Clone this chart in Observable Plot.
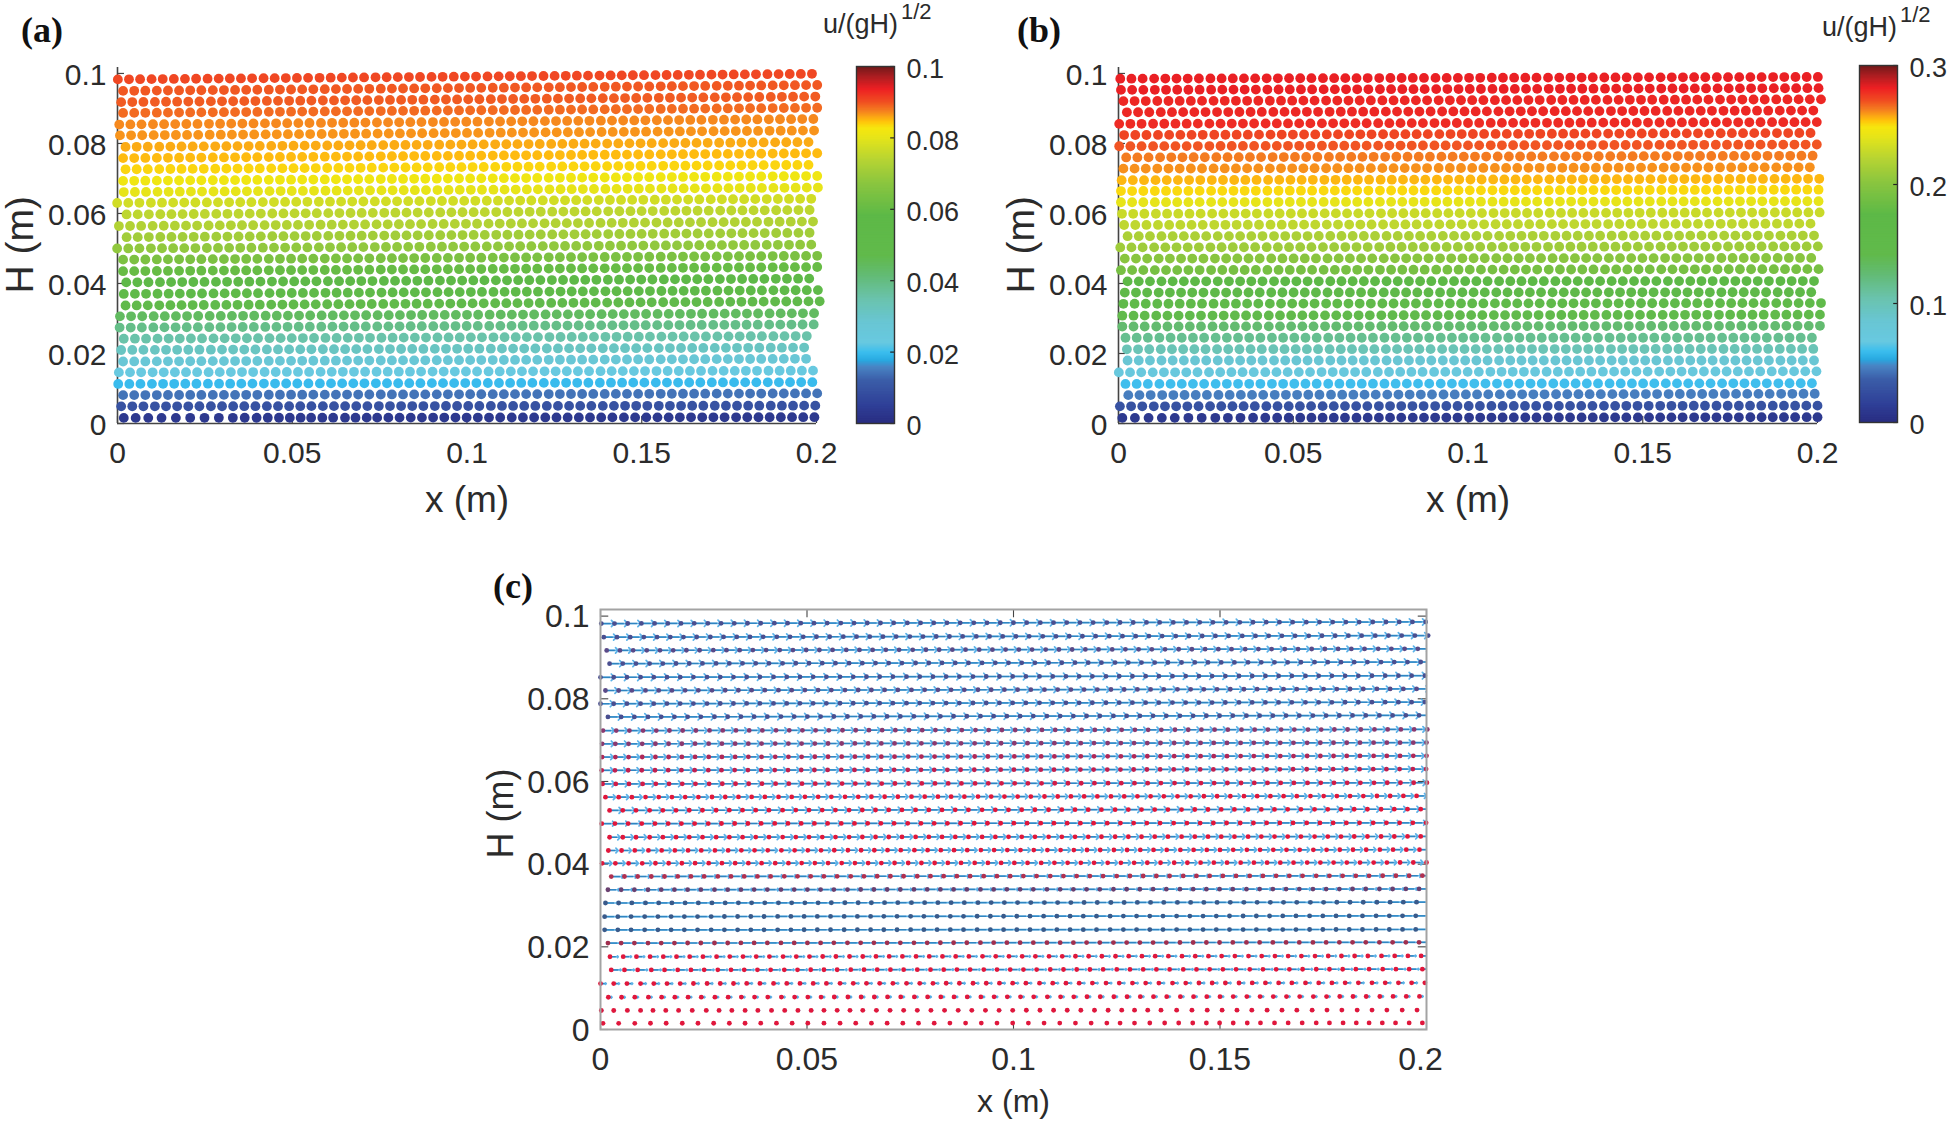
<!DOCTYPE html>
<html><head><meta charset="utf-8">
<style>
html,body{margin:0;padding:0;background:#fff;width:1950px;height:1126px;overflow:hidden}
#page{position:relative;width:1950px;height:1126px}
#page>svg{position:absolute}
.tag{position:absolute;font:bold 36px "Liberation Serif",serif;line-height:1;color:#111}
.unit{position:absolute;font:27px "Liberation Sans",Arial,sans-serif;line-height:1;color:#2b2b2b;white-space:nowrap}
.unit sup{position:absolute;font-size:22px;line-height:1;top:-10px;left:78px}
</style>
<script src="https://cdn.jsdelivr.net/npm/d3@7"></script>
<script src="https://cdn.jsdelivr.net/npm/@observablehq/plot@0.6"></script>
</head><body><div id="page"></div>
<script>
// Tick labels
const xTicks = [0, 0.05, 0.1, 0.15, 0.2];
const yTicks = [0, 0.02, 0.04, 0.06, 0.08, 0.1];
const barTicksA = [0, 0.02, 0.04, 0.06, 0.08, 0.1];
const barTicksB = [0, 0.1, 0.2, 0.3];

// Colormap (fraction of full scale -> colour)
const mapStops = [0,.047,.12,.158,.175,.197,.225,.28,.346,.412,.468,.58,.672,.737,.795,.826,.845,.873,.9,.935,.972,1];
const mapColors = ["#2a2e82","#2f3f97","#3c5fa9","#4a86c5","#2aa9e0","#3bbdee","#68c9e0","#69c6d4","#6ac3ad","#63bb75","#61ba4b","#5db947","#8cc63f","#b7d433","#e4e41b","#f7e70f","#ffc20e","#f58220","#f04e23","#ed2024","#a81e22","#6e1a1a"];

// Particle columns along a row (m)
const columnX = [0,.0032,.0064,.0097,.0129,.0161,.0193,.0225,.0258,.029,.0322,.0354,.0386,.0419,.0451,.0483,.0515,.0547,.058,.0612,.0644,.0676,.0708,.0741,.0773,.0805,.0837,.0869,.0902,.0934,.0966,.0998,.103,.1063,.1095,.1127,.1159,.1191,.1224,.1256,.1288,.132,.1352,.1385,.1417,.1449,.1481,.1513,.1546,.1578,.161,.1642,.1674,.1707,.1739,.1771,.1803,.1835,.1868,.19,.1932,.1964,.1996];

// Panel (a): one entry per particle row, top to bottom
const heightsA = [.0983,.095,.0918,.0887,.0854,.0823,.079,.0758,.0726,.0693,.0661,.063,.0597,.0564,.0532,.05,.0468,.0435,.0403,.037,.0337,.0306,.0274,.0242,.021,.0177,.0146,.0113,.0081,.0049,.0016];
const tiltsA = [.0016,.0017,.0016,.0015,.0016,.0014,.0014,.0014,.0013,.0014,.0013,.0012,.0013,.0013,.0013,.0011,.0011,.0012,.0011,.0011,.0012,.0009,.0009,.0008,.0007,.0008,.0005,.0005,.0005,.0002,.0002];
const shiftsA = [.0001,.0016,.00105,.0016,.0005,.0007,.0023,.0016,.0023,.0016,.0018,-.0001,.0026,.0004,.0026,-.0001,.0016,.0016,.0025,.0018,.0023,.0007,.0006,.0018,.00105,.0016,.0004,.0002,.0016,.00105,.0018];
const countsA = [63,63,63,63,63,63,62,63,62,63,63,63,62,63,62,63,63,63,62,63,63,63,63,62,62,62,63,63,63,63,63];
const speedsA = [.0905,.0895,.0893,.0885,.087,.0865,.0855,.0848,.0835,.0815,.08,.077,.0745,.073,.0705,.068,.064,.06,.056,.052,.047,.044,.039,.035,.031,.027,.0225,.0195,.014,.009,.003];
const bottomRowA = [.0018,.0052,.0088,.0126,.0167,.0208,.0249,.029,.033,.0364,.0398,.043,.0462,.0493,.0524,.0554,.0586,.0617,.0651,.0681,.0713,.0743,.0775,.0807,.0839,.0871,.0903,.0935,.0967,.0999,.1031,.1063,.1095,.1128,.116,.1192,.1224,.1256,.1288,.132,.1352,.1384,.1416,.1449,.1481,.1513,.1545,.1577,.1609,.1641,.1673,.1705,.1737,.177,.1802,.1834,.1866,.1898,.193,.1962,.1994];
const pitchRatioA = 0.995;

// Panel (b)
const heightsB = [.0985,.0953,.0921,.0889,.0856,.0824,.0792,.076,.0728,.0695,.0664,.0632,.0599,.0567,.0535,.0503,.0471,.0438,.0406,.0374,.0342,.0308,.0277,.0245,.0212,.018,.0146,.0113,.0081,.0049,.0016];
const tiltsB = [.0005,.0005,.0005,.0005,.0005,.0006,.0005,.0005,.0004,.0004,.0004,.0003,.0004,.0004,.0002,.0003,.0002,.0003,.0001,.0001,.0002,.0003,.0002,0,.0001,0,.0003,.0002,.0004,.0002,.0002];
const shiftsB = [.0005,.0007,.0014,.0024,.0002,.0016,.0002,.0022,.0014,.0009,.0007,.0007,.001,.0016,.0026,.0005,.0018,.0007,.0026,.0018,.0014,.0011,.0011,.002,.0024,.0026,.0001,.002,.0028,.0004,.0011];
const countsB = [63,63,63,62,63,62,63,62,62,63,63,63,63,62,62,63,62,63,62,62,63,63,63,62,62,62,63,62,62,63,63];
const speedsB = [.281,.281,.279,.279,.278,.272,.269,.263,.26,.255,.25,.24,.228,.224,.216,.21,.2,.189,.174,.159,.15,.141,.126,.114,.099,.084,.072,.06,.045,.027,.009];
const bottomRowB = [.0011,.0047,.0086,.0124,.0161,.02,.0238,.0277,.0313,.0349,.0385,.042,.0454,.0487,.052,.0552,.0584,.0616,.0648,.0681,.0713,.0745,.0777,.0809,.0842,.0874,.0906,.0938,.097,.1003,.1035,.1067,.1099,.1131,.1164,.1196,.1228,.126,.1292,.1325,.1357,.1389,.1421,.1453,.1486,.1518,.155,.1582,.1614,.1647,.1679,.1711,.1743,.1775,.1808,.184,.1872,.1904,.1936,.1969,.2];

// Panel (c): particles and velocity arrows
const heightsC = [.0982,.0949,.0917,.0885,.0852,.082,.0788,.0756,.0723,.0691,.0659,.0627,.0594,.0562,.053,.0498,.0465,.0433,.0402,.037,.0338,.0306,.0273,.0241,.0209,.0176,.0144,.0111,.0078,.0046,.0015];
const tiltsC = [.0004,.0004,.0004,.0004,.0004,.0004,.0004,.0004,.0003,.0003,.0003,.0003,.0003,.0003,.0003,.0002,.0002,.0002,.0002,.0002,.0002,.0002,.0002,.0001,.0002,.0002,.0002,.0002,.0002,.0001,.0001];
const shiftsC = [.0002,.0008,.0015,.0022,0,.0012,0,.0018,.0006,.0004,.0004,.0003,.0005,.0012,.0022,.0003,.0022,.0019,.0004,.0026,.0018,.0012,.001,.001,.0018,.0023,.0026,0,.0019,0,0];
const countsC = [63,63,62,62,63,62,63,62,63,63,63,63,63,62,62,63,62,62,63,62,62,62,62,62,62,62,62,63,62,63,63];
const arrowLengthsC = [.0032,.0031,.0028,.0032,.0034,.003,.0031,.0033,.0028,.0029,.0027,.0028,.003,.0025,.003,.0032,.0026,.0024,.0024,.003,.0028,.003,.0032,.0032,.0032,.002,.0024,.0014,.0009,.0004,0];
const arrowHeadsC = [6,6,6,6,6,6,6,6,5.5,5.5,5.5,5.5,5,5,4,3,3.5,3.5,3,2,1.5,1,1,1,1,1,1,1,1,1,0];
const dotTintsC = ["#4a4f90","#4a4f90","#5a4a88","#4a4f90","#4a4f90","#5a4a88","#4a4f90","#4a4f90","#8a3a70","#8a3a70","#b02858","#c02050","#d01c48","#e0173c","#e0173c","#e0173c","#e0173c","#e0173c","#e0173c","#b03050","#6a4070","#3a5a8a","#3a5a8a","#3a5a8a","#a0304f","#e0173c","#e0173c","#e0173c","#e0173c","#e0173c","#e0173c"];
const row29C = [.0002,.0032,.0065,.0097,.0127,.0158,.0189,.0222,.0256,.0287,.0318,.035,.0381,.0414,.0446,.0478,.051,.0541,.0573,.0604,.0635,.0668,.0701,.0734,.0767,.08,.0833,.0866,.0899,.0932,.0965,.0998,.1031,.1064,.1097,.113,.1163,.1196,.1229,.1262,.1293,.1325,.1357,.1395,.1432,.1469,.1505,.1541,.1577,.1614,.165,.1686,.1723,.1759,.1795,.1832,.1868,.1904,.1941,.1977];
const bottomRowC = [.0006,.0044,.0083,.0121,.0159,.0198,.0236,.0274,.0312,.035,.0388,.0426,.0464,.0502,.0541,.058,.0618,.0656,.0694,.0732,.077,.0808,.0846,.0884,.0922,.096,.0998,.1036,.1074,.1112,.115,.1188,.1226,.1258,.1293,.133,.1366,.14,.1434,.1467,.1499,.1532,.1566,.1598,.1632,.1665,.1699,.1733,.1765,.1798,.183,.1861,.1893,.1925,.1958,.199];

const SANS = '"Liberation Sans", Arial, sans-serif';
const INK = "#2b2b2b";
const XMAX = 0.2;
const page = document.getElementById("page");

function particleTable({heights, tilts, shifts, counts, custom = {}, pitch = 1}) {
  const rows = [];
  heights.forEach((h, r) => {
    const xs = custom[r] || columnX.slice(0, counts[r]).map(x => x * pitch + shifts[r]);
    for (const x of xs) rows.push({x, y: h + tilts[r] * x / XMAX, row: r});
  });
  return rows;
}

function place(svg, left, top) {
  svg.style.left = left + "px";
  svg.style.top = top + "px";
  page.appendChild(svg);
}

const tickStyle = (fontSize) => ({tickSize: 0, fontSize, fontFamily: SANS, fill: INK, tickFormat: d => String(d), label: null});

function fieldPanel({left, data, max, speeds}) {
  const plot = Plot.plot({
    width: 850, height: 520,
    marginLeft: 117, marginRight: 34, marginTop: 67, marginBottom: 97,
    style: {background: "transparent", overflow: "visible"},
    x: {domain: [0, XMAX]},
    y: {domain: [0, 0.1017]},
    color: {type: "linear", domain: mapStops.map(s => s * max), range: mapColors},
    marks: [
      Plot.ruleX([0], {y1: 0, y2: 0.1017, stroke: "#444", strokeWidth: 1.6}),
      Plot.ruleY([0], {x1: 0, x2: XMAX, stroke: "#444", strokeWidth: 1.6}),
      Plot.ruleY(yTicks, {x1: 0, x2: 0.002, stroke: "#444", strokeWidth: 1.2}),
      Plot.ruleX(xTicks, {y1: 0, y2: 0.002, stroke: "#444", strokeWidth: 1.2}),
      Plot.dot(data, {x: "x", y: "y", fill: d => speeds[d.row], r: 4.9, stroke: "none"}),
      Plot.axisX(xTicks, {...tickStyle(30), tickPadding: 18}),
      Plot.axisY(yTicks, {...tickStyle(30), tickPadding: 11, dy: 1.5}),
      Plot.text(["x (m)"], {frameAnchor: "bottom", dy: 88, fontSize: 37, fontFamily: SANS, fill: INK}),
      Plot.text(["H (m)"], {frameAnchor: "left", dx: -97, dy: 48, rotate: -90, fontSize: 39, fontFamily: SANS, fill: INK})
    ]
  });
  place(plot, left, 0);
}

function colorBar({left, top, max, ticks}) {
  const levels = mapStops.flatMap((s, i) => i ? d3.range(24).map(k => mapStops[i - 1] + (s - mapStops[i - 1]) * k / 24) : []);
  const bar = Plot.plot({
    width: 130, height: 470,
    marginLeft: 36, marginRight: 56, marginTop: top, marginBottom: 470 - top - 357,
    style: {background: "transparent", overflow: "visible"},
    x: {domain: [0, 1], axis: null},
    y: {domain: [0, max]},
    color: {type: "linear", domain: mapStops.map(s => s * max), range: mapColors},
    marks: [
      Plot.rect(levels, {x1: 0, x2: 1, y1: d => d * max, y2: d => Math.min(1, d + 0.012) * max, fill: d => d * max}),
      Plot.ruleY(ticks, {x1: 0.9, x2: 1, stroke: "#222", strokeWidth: 1.2}),
      Plot.frame({stroke: "#333", strokeWidth: 1.4}),
      Plot.axisY(ticks, {...tickStyle(27), anchor: "right", tickPadding: 12, dy: 3})
    ]
  });
  place(bar, left, 0);
}

const dataA = particleTable({heights: heightsA, tilts: tiltsA, shifts: shiftsA, counts: countsA, custom: {30: bottomRowA}, pitch: pitchRatioA});
const dataB = particleTable({heights: heightsB, tilts: tiltsB, shifts: shiftsB, counts: countsB, custom: {30: bottomRowB}});
const dataC = particleTable({heights: heightsC, tilts: tiltsC, shifts: shiftsC, counts: countsC, custom: {29: row29C, 30: bottomRowC}});

fieldPanel({left: 0, data: dataA, max: 0.1, speeds: speedsA});
fieldPanel({left: 1000.5, data: dataB, max: 0.3, speeds: speedsB});
colorBar({left: 820, top: 66, max: 0.1, ticks: barTicksA});
colorBar({left: 1823, top: 65, max: 0.3, ticks: barTicksB});

// Panel (c)
const moving = dataC.filter(d => arrowLengthsC[d.row] > 0);
const headGroups = d3.groups(moving, d => arrowHeadsC[d.row]);
const panelC = Plot.plot({
  width: 980, height: 566,
  marginLeft: 120, marginRight: 34, marginTop: 49, marginBottom: 97,
  style: {background: "transparent", overflow: "visible"},
  x: {domain: [0, XMAX]},
  y: {domain: [0, 0.1016]},
  marks: [
    Plot.ruleY(yTicks, {x1: 0, x2: 0.002, stroke: "#444", strokeWidth: 1.1}),
    Plot.ruleY(yTicks, {x1: 0.198, x2: 0.2, stroke: "#444", strokeWidth: 1.1}),
    Plot.ruleX(xTicks, {y1: 0, y2: 0.002, stroke: "#444", strokeWidth: 1.1}),
    Plot.ruleX(xTicks, {y1: 0.0996, y2: 0.1016, stroke: "#444", strokeWidth: 1.1}),
    ...headGroups.map(([head, rows]) =>
      Plot.arrow(rows, {
        x1: "x", y1: "y", x2: d => d.x + arrowLengthsC[d.row], y2: "y",
        stroke: "#5cb2e8", strokeWidth: 1.7, headLength: head, headAngle: 90, bend: 0, clip: true
      })),
    Plot.link(moving, {
      x1: "x", y1: "y", x2: d => d.x + arrowLengthsC[d.row] * 0.7, y2: "y",
      stroke: "#2a80bd", strokeWidth: 1.4, strokeOpacity: 0.9, clip: true
    }),
    Plot.dot(dataC, {x: "x", y: "y", r: 2.4, fill: d => dotTintsC[d.row]}),
    Plot.frame({stroke: "#a3a3a3", strokeWidth: 2}),
    Plot.axisX(xTicks.slice(0, 4), {...tickStyle(32), tickPadding: 18}),
    Plot.axisX(xTicks.slice(4), {...tickStyle(32), tickPadding: 18, dx: -6}),
    Plot.axisY(yTicks, {...tickStyle(32), tickPadding: 11, dy: 1}),
    Plot.text(["x (m)"], {frameAnchor: "bottom", dy: 82, fontSize: 32, fontFamily: SANS, fill: INK}),
    Plot.text(["H (m)"], {frameAnchor: "left", dx: -99, dy: 39, rotate: -90, fontSize: 36, fontFamily: SANS, fill: INK})
  ]
});
place(panelC, 480, 560);

// Panel tags and bar titles
const notes = [
  ["tag", 21, 12, "(a)"], ["tag", 1017, 12, "(b)"], ["tag", 493, 568, "(c)"],
  ["unit", 823, 11, 'u/(gH)<sup>1/2</sup>'], ["unit", 1822, 14, 'u/(gH)<sup>1/2</sup>']
];
for (const [cls, x, y, html] of notes) {
  const el = document.createElement("div");
  el.className = cls;
  el.style.left = x + "px";
  el.style.top = y + "px";
  el.innerHTML = html;
  page.appendChild(el);
}
</script></body></html>
